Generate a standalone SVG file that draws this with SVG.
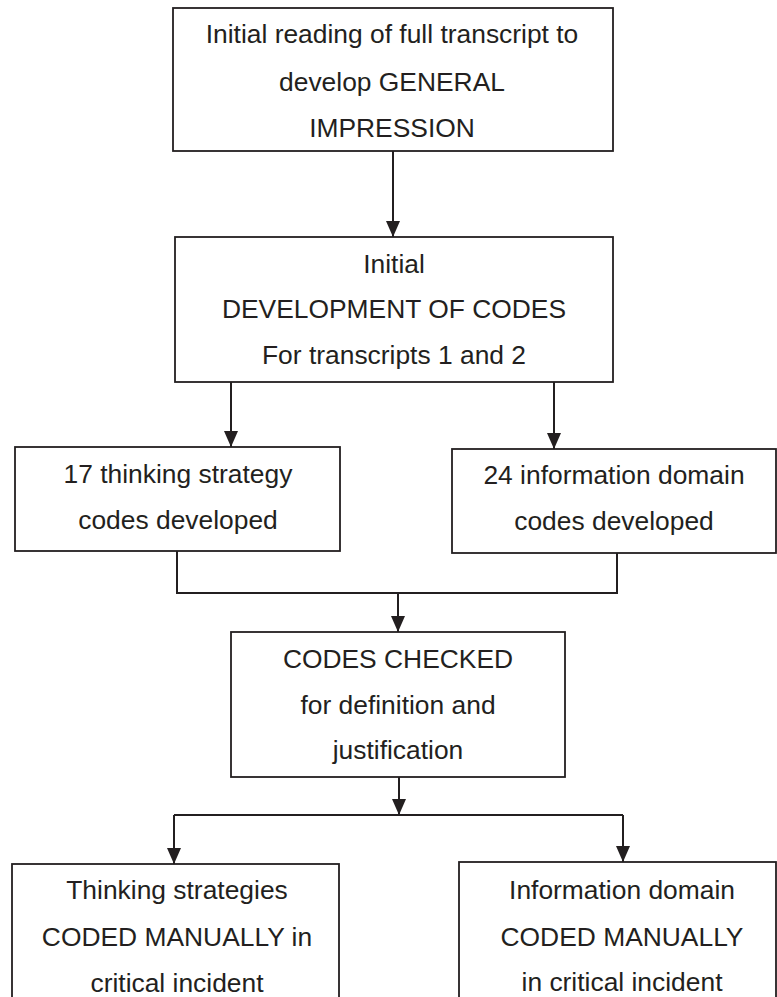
<svg xmlns="http://www.w3.org/2000/svg" width="777" height="997" viewBox="0 0 777 997">
  <style>
    .box { fill: #ffffff; stroke: #231f20; stroke-width: 1.8; }
    .lbl { font-family: "Liberation Sans", Arial, sans-serif; font-size: 26.4px; fill: #231f20; text-anchor: middle; }
    .wire { fill: none; stroke: #231f20; stroke-width: 2; }
  </style>
  <defs>
    <!-- filled triangular arrowhead, tip at the end of the line -->
    <marker id="head" viewBox="0 0 16 14" refX="16" refY="7" markerWidth="16" markerHeight="14" markerUnits="userSpaceOnUse" orient="auto">
      <path d="M0,0 L16,7 L0,14 Z" fill="#231f20"/>
    </marker>
  </defs>
  <rect width="777" height="997" fill="#ffffff"/>

  <g id="connectors">
    <path class="wire" d="M393,151 V237" marker-end="url(#head)"/>
    <path class="wire" d="M231,382 V447" marker-end="url(#head)"/>
    <path class="wire" d="M554,382 V449" marker-end="url(#head)"/>
    <path class="wire" d="M177,551 V593 H617 V553"/>
    <path class="wire" d="M398,593 V632" marker-end="url(#head)"/>
    <path class="wire" d="M399,777 V815" marker-end="url(#head)"/>
    <path class="wire" d="M174,815 H623"/>
    <path class="wire" d="M174,815 V864" marker-end="url(#head)"/>
    <path class="wire" d="M623,815 V862" marker-end="url(#head)"/>
  </g>

  <g id="general-impression">
    <rect class="box" x="173" y="8" width="440" height="143"/>
    <text class="lbl" x="392" y="43">Initial reading of full transcript to</text>
    <text class="lbl" x="392" y="91">develop GENERAL</text>
    <text class="lbl" x="392" y="137">IMPRESSION</text>
  </g>

  <g id="development-of-codes">
    <rect class="box" x="175" y="237" width="438" height="145"/>
    <text class="lbl" x="394" y="273">Initial</text>
    <text class="lbl" x="394" y="318">DEVELOPMENT OF CODES</text>
    <text class="lbl" x="394" y="364">For transcripts 1 and 2</text>
  </g>

  <g id="thinking-codes">
    <rect class="box" x="15" y="447" width="325" height="104"/>
    <text class="lbl" x="178" y="483">17 thinking strategy</text>
    <text class="lbl" x="178" y="529">codes developed</text>
  </g>

  <g id="domain-codes">
    <rect class="box" x="452" y="449" width="324" height="104"/>
    <text class="lbl" x="614" y="484">24 information domain</text>
    <text class="lbl" x="614" y="530">codes developed</text>
  </g>

  <g id="codes-checked">
    <rect class="box" x="231" y="632" width="334" height="145"/>
    <text class="lbl" x="398" y="668">CODES CHECKED</text>
    <text class="lbl" x="398" y="714">for definition and</text>
    <text class="lbl" x="398" y="759">justification</text>
  </g>

  <g id="thinking-coded">
    <rect class="box" x="12" y="864" width="327" height="150"/>
    <text class="lbl" x="177" y="899">Thinking strategies</text>
    <text class="lbl" x="177" y="946">CODED MANUALLY in</text>
    <text class="lbl" x="177" y="992">critical incident</text>
  </g>

  <g id="domain-coded">
    <rect class="box" x="459" y="862" width="317" height="150"/>
    <text class="lbl" x="622" y="899">Information domain</text>
    <text class="lbl" x="622" y="946">CODED MANUALLY</text>
    <text class="lbl" x="622" y="991">in critical incident</text>
  </g>
</svg>
